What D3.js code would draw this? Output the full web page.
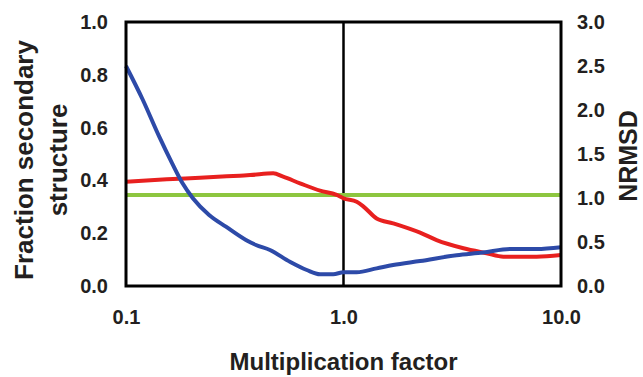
<!DOCTYPE html>
<html>
<head>
<meta charset="utf-8">
<script src="https://cdn.jsdelivr.net/npm/d3@7"></script>
<style>
  body { margin: 0; background: #fff; }
  svg text { font-family: "Liberation Sans", Arial, sans-serif; font-weight: bold; fill: #231f20; }
</style>
</head>
<body>
<svg id="chart" width="643" height="377"></svg>
<script>
// multiplication factor (x, log scale) for each series
var blueX = [0.1, 0.119, 0.142, 0.163, 0.182, 0.203, 0.241, 0.288, 0.356, 0.396, 0.459, 0.567, 0.678, 0.78, 0.897, 1.0, 1.15, 1.42, 1.69, 2.25, 3.31, 4.38, 5.83, 7.73, 10];
// NRMSD (right axis)
var blueY = [2.5, 2.125, 1.7, 1.394, 1.167, 0.997, 0.807, 0.674, 0.523, 0.466, 0.409, 0.276, 0.182, 0.133, 0.133, 0.156, 0.156, 0.2, 0.239, 0.284, 0.35, 0.38, 0.42, 0.42, 0.44];

var redX = [0.1, 0.154, 0.219, 0.334, 0.372, 0.475, 0.528, 0.631, 0.78, 0.93, 1.0, 1.15, 1.24, 1.42, 1.69, 2.25, 2.68, 3.56, 4.55, 5.43, 7.73, 10];
// fraction secondary structure (left axis)
var redY = [0.395, 0.404, 0.41, 0.418, 0.42, 0.427, 0.414, 0.389, 0.361, 0.345, 0.332, 0.319, 0.3, 0.256, 0.2375, 0.202, 0.174, 0.143, 0.124, 0.111, 0.111, 0.117];

var greenX = [0.1, 10];
var greenY = [0.345, 0.345];

var xTicks = [0.1, 1, 10];
var leftTicks = [0, 0.2, 0.4, 0.6, 0.8, 1.0];
var rightTicks = [0, 0.5, 1.0, 1.5, 2.0, 2.5, 3.0];

var svg = d3.select("#chart");
var plotL = 126, plotR = 561, plotT = 22, plotB = 286;

var x = d3.scaleLog().domain([0.1, 10]).range([plotL, plotR]);
var yL = d3.scaleLinear().domain([0, 1]).range([plotB, plotT]);
var yR = d3.scaleLinear().domain([0, 3]).range([plotB, plotT]);

// axes (labels only, no tick marks)
var xAxis = d3.axisBottom(x).tickValues(xTicks).tickSize(0).tickPadding(24).tickFormat(d3.format(".1f"));
var lAxis = d3.axisLeft(yL).tickValues(leftTicks).tickSize(0).tickPadding(18).tickFormat(d3.format(".1f"));
var rAxis = d3.axisRight(yR).tickValues(rightTicks).tickSize(0).tickPadding(16).tickFormat(d3.format(".1f"));

svg.append("g").attr("transform", "translate(0," + plotB + ")").call(xAxis);
svg.append("g").attr("transform", "translate(" + plotL + ",0)").call(lAxis);
svg.append("g").attr("transform", "translate(" + plotR + ",0)").call(rAxis);
svg.selectAll(".domain").remove();
svg.selectAll(".tick text").style("font-size", "20px").style("font-family", "Liberation Sans, Arial, sans-serif").style("fill", "#231f20");

// vertical line at 1.0
svg.append("line")
  .attr("x1", x(1)).attr("x2", x(1))
  .attr("y1", plotT).attr("y2", plotB)
  .attr("stroke", "#000").attr("stroke-width", 2.5);

var lineL = d3.line().x(function(d) { return x(d[0]); }).y(function(d) { return yL(d[1]); }).curve(d3.curveMonotoneX);
var lineR = d3.line().x(function(d) { return x(d[0]); }).y(function(d) { return yR(d[1]); }).curve(d3.curveMonotoneX);

svg.append("path")
  .datum(d3.zip(greenX, greenY))
  .attr("d", lineL).attr("fill", "none")
  .attr("stroke", "#8dc63f").attr("stroke-width", 4);

svg.append("path")
  .datum(d3.zip(redX, redY))
  .attr("d", lineL).attr("fill", "none")
  .attr("stroke", "#e8201f").attr("stroke-width", 4);

svg.append("path")
  .datum(d3.zip(blueX, blueY))
  .attr("d", lineR).attr("fill", "none")
  .attr("stroke", "#2d4aa8").attr("stroke-width", 4);

// plot frame
svg.append("rect")
  .attr("x", plotL).attr("y", plotT)
  .attr("width", plotR - plotL).attr("height", plotB - plotT)
  .attr("fill", "none").attr("stroke", "#000").attr("stroke-width", 3);

// titles
svg.append("text")
  .attr("x", (plotL + plotR) / 2).attr("y", 370)
  .attr("text-anchor", "middle")
  .style("font-size", "24px")
  .text("Multiplication factor");

var lt = svg.append("text")
  .attr("transform", "translate(33," + ((plotT + plotB) / 2 + 6) + ") rotate(-90)")
  .attr("text-anchor", "middle")
  .style("font-size", "26px");
lt.append("tspan").attr("x", 0).attr("dy", 0).text("Fraction secondary");
lt.append("tspan").attr("x", 0).attr("dy", 34).text("structure");

svg.append("text")
  .attr("transform", "translate(637," + ((plotT + plotB) / 2 + 2) + ") rotate(-90)")
  .attr("text-anchor", "middle")
  .style("font-size", "25px")
  .text("NRMSD");
</script>
</body>
</html>
